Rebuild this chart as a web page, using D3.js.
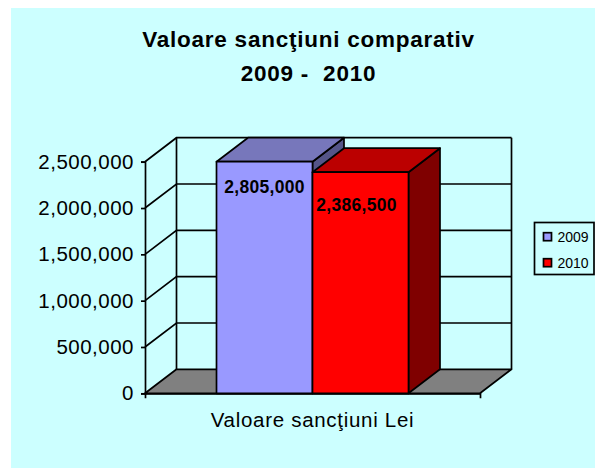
<!DOCTYPE html>
<html><head><meta charset="utf-8">
<script src="https://cdnjs.cloudflare.com/ajax/libs/d3/7.8.5/d3.min.js"></script>
<style>html,body{margin:0;padding:0;background:#fff}svg{display:block}text{font-family:"Liberation Sans",Arial,sans-serif;fill:#000}</style>
</head><body><svg width="595" height="468"></svg>
<script>
const categories = ["Valoare sancţiuni Lei"];
const seriesNames = ["2009", "2010"];
const seriesValues = [2805000, 2386500];
const seriesLabels = ["2,805,000", "2,386,500"];
const yTicks = [0, 500000, 1000000, 1500000, 2000000, 2500000];
const titleLines = ["Valoare sancţiuni comparativ", "2009 -  2010"];
const front = ["#9999ff", "#ff0000"], top3d = ["#7777bb", "#bb0000"], side = ["#555588", "#7f0000"];

const svg = d3.select("svg");
const ink = "#000", sw = 1.7;
const dx = 31.5, dy = -24;
svg.append("rect").attr("x",11).attr("y",8).attr("width",584).attr("height",460).attr("fill","#ccffff");

const y = d3.scaleLinear().domain([0,2500000]).range([393.3,161.7]);
const x0 = d3.scaleBand().domain(categories).range([145,480]);
const x1 = d3.scaleBand().domain(seriesNames).range([x0(categories[0])+71.5, x0(categories[0])+263.5]);
const yMax = yTicks[yTicks.length-1];
const line = d3.line();
const L = x0.range()[0], R = x0.range()[1], B = y(0), T = y(yMax);

// walls and floor
svg.append("path").attr("d",line([[L,B],[L+dx,B+dy],[R+dx,B+dy],[R,B]])+"Z").attr("fill","#808080").attr("stroke",ink).attr("stroke-width",sw).attr("stroke-linejoin","round");
yTicks.slice(1).forEach(t=>{
  svg.append("path").attr("d",line([[L,y(t)],[L+dx,y(t)+dy],[R+dx,y(t)+dy]])).attr("fill","none").attr("stroke",ink).attr("stroke-width",sw);
});
svg.append("path").attr("d",line([[L+dx,B+dy],[L+dx,T+dy]])).attr("stroke",ink).attr("stroke-width",sw);
svg.append("path").attr("d",line([[R+dx,B+dy],[R+dx,T+dy]])).attr("stroke",ink).attr("stroke-width",sw);

// bars, clipped at the axis maximum
seriesValues.forEach((v,i)=>{
  const xa = x1(seriesNames[i]), xb = xa + x1.bandwidth(), yt = y(Math.min(v,yMax));
  const g = svg.append("g").attr("stroke",ink).attr("stroke-width",sw).attr("stroke-linejoin","round");
  g.append("path").attr("d",line([[xb,B],[xb+dx,B+dy],[xb+dx,yt+dy],[xb,yt]])+"Z").attr("fill",side[i]);
  g.append("path").attr("d",line([[xa,yt],[xa+dx,yt+dy],[xb+dx,yt+dy],[xb,yt]])+"Z").attr("fill",top3d[i]);
  g.append("rect").attr("x",xa).attr("y",yt).attr("width",xb-xa).attr("height",B-yt).attr("fill",front[i]);
});

// axes
const yAxis = d3.axisLeft(y).tickValues(yTicks).tickFormat(d3.format(",")).tickSize(4).tickPadding(7);
const gy = svg.append("g").attr("transform",`translate(${L},0)`).call(yAxis);
gy.selectAll("path,line").attr("stroke",ink).attr("stroke-width",sw);
gy.selectAll("text").style("font-family",'"Liberation Sans",Arial,sans-serif').style("font-size","20.5px").style("letter-spacing","0.5px");
const xAxis = d3.axisBottom(x0).tickValues([]).tickSize(5);
const gx = svg.append("g").attr("transform",`translate(0,${B})`).call(xAxis);
gx.selectAll("path").attr("stroke",ink).attr("stroke-width",sw);
svg.append("text").attr("x",312.5).attr("y",427.3).attr("text-anchor","middle").style("font-size","20.5px").style("letter-spacing","0.7px").text(categories[0]);

// data labels
const labelX = [264.5, 356.5], labelY = [193, 211];
seriesLabels.forEach((s,i)=>{
  svg.append("text").attr("x",labelX[i]).attr("y",labelY[i]).attr("text-anchor","middle").style("font-size","17.5px").style("font-weight","bold").style("letter-spacing","0.3px").text(s);
});

// title
titleLines.forEach((s,i)=>{
  svg.append("text").attr("x",308.5).attr("y",[47,81][i]).attr("text-anchor","middle").style("font-size","22.5px").style("font-weight","bold").style("letter-spacing","0.75px").style("white-space","pre").text(s);
});

// legend
svg.append("rect").attr("x",534.5).attr("y",222.5).attr("width",59.5).attr("height",52).attr("fill","#ccffff").attr("stroke",ink).attr("stroke-width",sw);
seriesNames.forEach((s,i)=>{
  const ly = [236.7,262.7][i];
  svg.append("rect").attr("x",543.5).attr("y",ly-4).attr("width",8).attr("height",8).attr("fill",front[i]).attr("stroke",ink).attr("stroke-width",sw);
  svg.append("text").attr("x",557.5).attr("y",ly+5).style("font-size","14px").text(s);
});
</script></body></html>
